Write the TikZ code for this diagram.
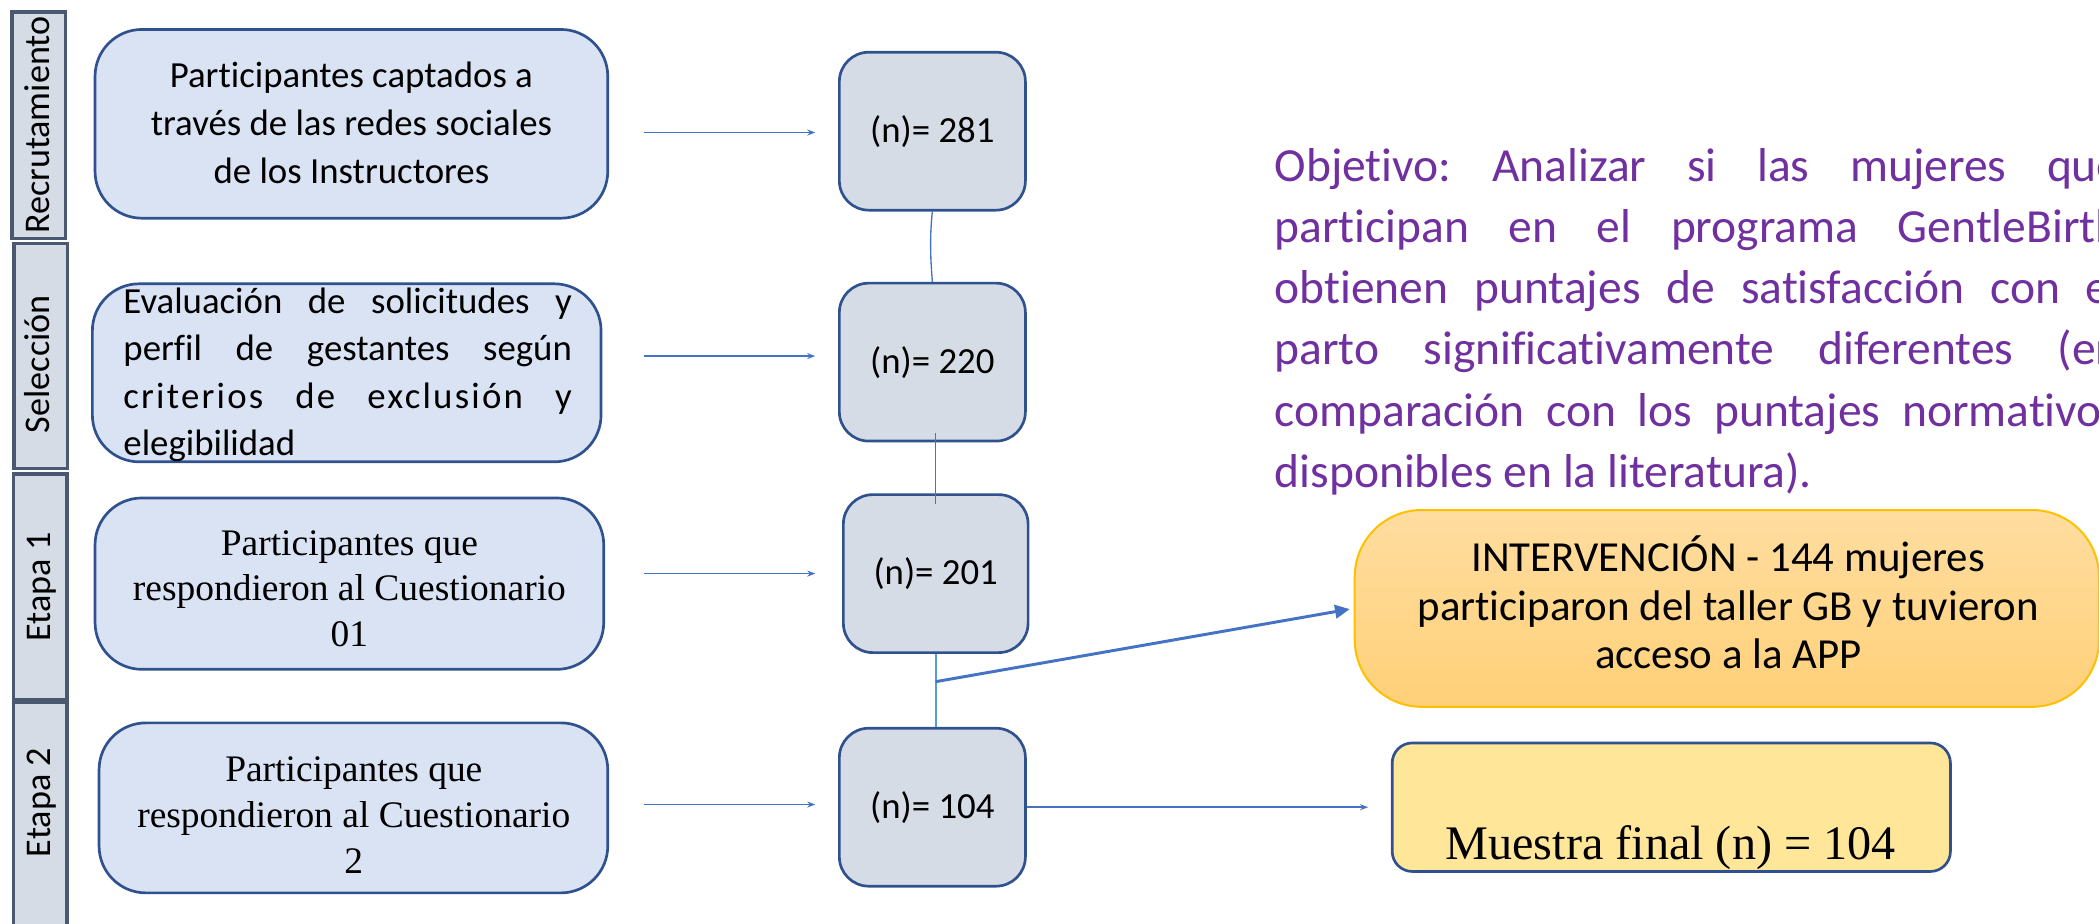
\documentclass[tikz,border=0pt]{standalone}
\usepackage{fontspec}
\setmainfont{Carlito}[Ligatures=CommonOff]
\newfontfamily\timesf{Liberation Serif}
\usetikzlibrary{arrows.meta,calc}
\definecolor{boxblue}{HTML}{DAE3F3}
\definecolor{bordblue}{HTML}{2F528F}
\definecolor{ngray}{HTML}{D6DCE5}
\definecolor{slate}{HTML}{4A5870}
\definecolor{arrblue}{HTML}{4472C4}
\definecolor{lineblue}{HTML}{5B9BD5}
\definecolor{purp}{HTML}{7030A0}
\definecolor{gold}{HTML}{FFC000}
\definecolor{orangetop}{HTML}{FFDDA0}
\definecolor{orangebot}{HTML}{FFD078}
\definecolor{yellowfill}{HTML}{FFE699}
\begin{document}
\begin{tikzpicture}[x=1pt,y=-1pt,
  sidebox/.style={draw=slate,line width=2.5pt,fill=ngray,inner sep=0pt,minimum width=40pt},
  sidetext/.style={rotate=90,anchor=base,inner sep=0pt,font=\fontsize{27}{30}\selectfont},
  lbox/.style={draw=bordblue,line width=2pt,fill=boxblue,rounded corners=35pt,inner sep=0pt},
  nbox/.style={draw=bordblue,line width=2pt,fill=ngray,rounded corners=22pt,inner sep=0pt,minimum width=139pt,minimum height=118pt,font=\fontsize{27.5}{33}\selectfont},
  ibox/.style={draw=gold,line width=1.5pt,top color=orangetop,bottom color=orangebot,rounded corners=50pt,inner sep=0pt},
  mbox/.style={draw=bordblue,line width=2pt,fill=yellowfill,rounded corners=15pt,inner sep=0pt},
  txt/.style={anchor=base,inner sep=0pt},
  harrow/.style={draw=arrblue,line width=1.1pt,-{Stealth[length=6pt,width=4.5pt]}},
  vline/.style={draw=arrblue,line width=1pt},
  vlinetwo/.style={draw=lineblue,line width=1.8pt},
  barrow/.style={draw=arrblue,line width=2.2pt,-{Triangle[length=11pt,width=10pt]}}
]
\path[use as bounding box] (0,0) rectangle (1568,690);
\clip (0,0) rectangle (1568,690);

% side labels
\node[sidebox,minimum height=169pt] (rec) at (29,93.5) {};
\node[sidebox,minimum height=168pt] (sel) at (30.5,266) {};
\node[sidebox,minimum height=169pt] (et1) at (30,438.5) {};
\node[sidebox,minimum height=175pt] (et2) at (30,612.5) {};
\node[sidetext] (recT) at (37,93.5) {Recrutamiento};
\node[sidetext] (selT) at (37,272) {Selección};
\node[sidetext] (et1T) at (38,438.5) {Etapa 1};
\node[sidetext] (et2T) at (38,599.5) {Etapa 2};

% left boxes
\node[lbox,minimum width=383pt,minimum height=141pt] (b1) at (262.5,92.5) {};
\node[lbox,minimum width=380pt,minimum height=133pt] (b2) at (259,278.5) {};
\node[lbox,minimum width=380pt,minimum height=128pt] (b3) at (261,436) {};
\node[lbox,minimum width=380pt,minimum height=127pt] (b4) at (264,603.5) {};

\node[txt] (t1) at (262.5,65.5) {\parbox[t]{383pt}{\centering\fontsize{27.5}{35.8}\selectfont Participantes captados a\\ través de las redes sociales\\ de los Instructores}};
\node[txt,anchor=base west] (t2) at (92,234) {\parbox[t]{335pt}{\fontsize{27.5}{35.5}\selectfont\tolerance=10000\hyphenpenalty=10000 Evaluación de solicitudes y\linebreak perfil de gestantes según\linebreak {\addfontfeatures{LetterSpace=6}criterios de exclusión y}\linebreak elegibilidad}};
\node[txt] (t3) at (261,414.6) {\parbox[t]{380pt}{\centering\timesf\fontsize{28}{34.3}\selectfont Participantes que\\ respondieron al Cuestionario\\ 01}};
\node[txt] (t4) at (264.3,583.9) {\parbox[t]{380pt}{\centering\timesf\fontsize{28}{34.3}\selectfont Participantes que\\ respondieron al Cuestionario\\ 2}};

% count boxes
\node[nbox] (n281) at (696.5,98) {(n)= 281};
\node[nbox] (n220) at (696.5,270.5) {(n)= 220};
\node[nbox,minimum width=138pt] (n201) at (699,428.5) {(n)= 201};
\node[nbox] (n104) at (696.5,603) {(n)= 104};

% objective
\node[txt,anchor=base west,text=purp] (obj) at (952,135.5) {\parbox[t]{632pt}{\fontsize{35.5}{45.7}\selectfont\frenchspacing\tolerance=10000\hyphenpenalty=10000 Objetivo: Analizar si las mujeres que\linebreak participan en el programa GentleBirth\linebreak obtienen puntajes de satisfacción con el\linebreak parto significativamente diferentes (en\linebreak comparación con los puntajes normativos\linebreak disponibles en la literatura).}};

% intervention
\node[ibox,minimum width=556pt,minimum height=147pt] (interv) at (1290,454.5) {};
\node[txt] (itext) at (1291,427) {\parbox[t]{540pt}{\centering\fontsize{32}{36.3}\selectfont INTERVENCIÓN - 144 mujeres\\ participaron del taller GB y tuvieron\\ acceso a la APP}};

% final sample
\node[mbox,minimum width=417pt,minimum height=96pt] (muestra) at (1248.5,603) {};
\node[txt] (mtext) at (1248,642) {\timesf\fontsize{36}{40}\selectfont Muestra final (n) = 104};

% connectors
\coordinate (a1) at (481,99);
\coordinate (a2) at (481,266);
\coordinate (a3) at (481,428.5);
\coordinate (a4) at (481,601);
\draw[harrow,shorten >=17pt] (a1) -- (a1 -| n281.west);
\draw[harrow,shorten >=17pt] (a2) -- (a2 -| n220.west);
\draw[harrow,shorten >=20pt] (a3) -- (a3 -| n201.west);
\draw[harrow,shorten >=17pt] (a4) -- (a4 -| n104.west);
\draw[harrow,shorten >=17pt] (n104.east) -- (n104.east -| muestra.west);

\draw[vline] (n281.south) .. controls +(-2,18) and +(-1.5,-18) .. (n220.north);
\draw[vline] ($(n220.south -| n201.north)+(0,-7)$) -- ($(n201.north)+(0,8)$);
\draw[vlinetwo] (n201.south) -- (n201.south |- n104.north);
\coordinate (br) at ($(n201.south)!0.38!(n201.south |- n104.north)$);
\draw[barrow,shorten >=3pt] (br) -- (interv.west);
\end{tikzpicture}
\end{document}
